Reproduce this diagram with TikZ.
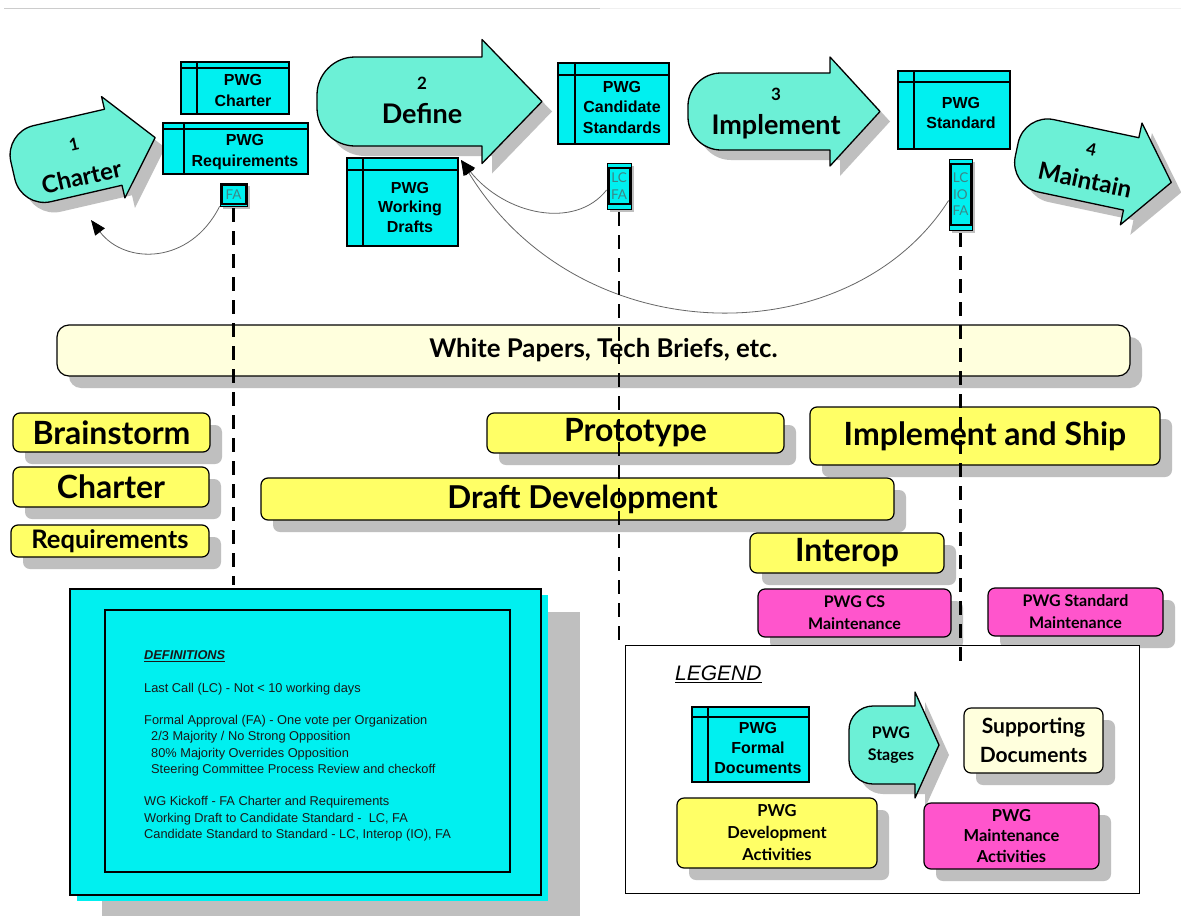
\documentclass[tikz,border=0pt]{standalone}
\usepackage{fontspec}
\setmainfont{Liberation Sans}
\newfontfamily\gill{Lato}
\usetikzlibrary{shadows,arrows.meta}
\definecolor{stagec}{RGB}{108,240,214}
\definecolor{docc}{RGB}{0,240,240}
\definecolor{barY}{RGB}{255,255,102}
\definecolor{paleY}{RGB}{255,255,221}
\definecolor{magc}{RGB}{255,85,204}
\definecolor{shg}{RGB}{191,191,191}
\definecolor{tealtxt}{RGB}{60,135,135}
\newcommand\myfs[2]{\fontsize{#1}{#2}\selectfont}
% L N T H B R
\newcommand\stageshape[6]{(0,-#4) -- (#2,-#4) -- (#2,-#5) -- (#3,0) -- (#2,#5) -- (#2,#4) -- ({#1+#6},#4) .. controls ({#1+0.45*#6},#4) and (#1,{#4-0.45*#6}) .. (#1,{#4-#6}) -- (#1,{-#4+#6}) .. controls (#1,{-#4+0.45*#6}) and ({#1+0.45*#6},-#4) .. ({#1+#6},-#4) -- cycle}
% cx cy rot L N T H B R
\newcommand\stagearrow[9]{%
 \fill[shg, shift={({#1+10},{#2+10})}, rotate=#3] \stageshape{#4}{#5}{#6}{#7}{#8}{#9};
 \draw[line width=1.3pt, fill=stagec, line join=round, shift={(#1,#2)}, rotate=#3] \stageshape{#4}{#5}{#6}{#7}{#8}{#9};}
\begin{document}
\begin{tikzpicture}[x=1pt,y=-1pt,
 bar/.style={draw, line width=1.2pt, rounded corners=7pt, inner sep=0pt, align=center,
   general shadow={fill=shg, shadow xshift=12pt, shadow yshift=-12pt},
   font=\gill\bfseries\myfs{32}{36}},
 docbox/.style 2 args={draw, line width=1.1pt, fill=docc, inner sep=0pt,
   path picture={\draw[line width=1.1pt] ([yshift=-#2 pt]path picture bounding box.north west) -- ([yshift=-#2 pt]path picture bounding box.north east);
   \draw[line width=1.1pt] ([xshift=#1 pt]path picture bounding box.north west) -- ([xshift=#1 pt]path picture bounding box.south west);}},
 doctxt/.style={align=center, inner sep=0pt, font=\bfseries\myfs{16}{20.5}},
 smallbox/.style={draw, line width=0.8pt, fill=docc, inner sep=0pt, align=center,
   font=\gill\myfs{13.5}{16.5}, text=tealtxt,
   general shadow={fill=shg, shadow xshift=3pt, shadow yshift=-3pt},
   path picture={\draw[line width=2pt] ([shift={(1.5pt,-#1 pt)}]path picture bounding box.north west) rectangle ([shift={(-1.5pt,#1 pt)}]path picture bounding box.south east);}},
 stagetxt/.style={inner sep=0pt, align=center, font=\gill\bfseries\myfs{27}{30}},
 dashline/.style={line width=2.2pt, dash pattern=on 14pt off 9pt},
 conn/.style={draw=black!60, line width=0.8pt, -{Triangle[length=15pt,width=12pt,color=black]}}
]
\useasboundingbox (0,0) rectangle (1181,916);
\fill[white] (0,0) rectangle (1181,916);
\draw[black!20, line width=0.8pt] (4,8) -- (600,8);
\draw[black!6, line width=0.8pt] (600,8) -- (1181,8);

% stage arrows
\stagearrow{84}{154}{13}{-73}{30}{73}{39}{52}{30}
\stagearrow{430}{101.5}{0}{-113}{52}{112}{44.5}{62}{38}
\stagearrow{784}{111.5}{0}{-96}{46}{96}{38.5}{54.5}{33}
\stagearrow{1094}{166}{-12}{-79}{38}{79}{37}{52}{30}
\node[stagetxt, rotate=13, font=\gill\bfseries\myfs{24}{30}] (t1) at (78,162) {{\myfs{17}{20}1}\\[6pt]Charter};
\node[stagetxt] (t2) at (422,100) {{\myfs{17}{20}2}\\[4pt]Define};
\node[stagetxt] (t3) at (776,114) {{\myfs{17}{20}3}\\[4pt]Implement};
\node[stagetxt, rotate=-12, font=\gill\bfseries\myfs{24}{30}] (t4) at (1088,166) {{\myfs{17}{20}4}\\[4pt]Maintain};
\coordinate (a1in) at (91,220);
\coordinate (wdIn) at (461,160);

% formal documents
\node[docbox={16}{6}, minimum width=108, minimum height=52] (charterDoc) at (235,88) {};
\node[doctxt] (charterT) at (243,90.5) {PWG\\Charter};
\node[docbox={21}{6}, minimum width=145, minimum height=51] (reqDoc) at (235.5,148.5) {};
\node[doctxt] (reqT) at (245,152) {PWG\\Requirements};
\node[docbox={16}{12}, minimum width=111, minimum height=88] (wdDoc) at (402.5,202) {};
\node[doctxt, font=\bfseries\myfs{16}{19.5}] (wdT) at (410,207) {PWG\\Working\\Drafts};
\node[docbox={17}{12}, minimum width=111, minimum height=81] (csDoc) at (613.5,103.5) {};
\node[doctxt] (csT) at (622,107) {PWG\\Candidate\\Standards};
\node[docbox={16}{11}, minimum width=112, minimum height=78] (stdDoc) at (954,110) {};
\node[doctxt] (stdT) at (961,113) {PWG\\Standard};

% approval boxes
\node[smallbox=2, minimum width=27, minimum height=23] (faBox) at (233.5,194.5) {FA};
\node[smallbox=5, minimum width=24, minimum height=46] (lcfaBox) at (619,186) {LC\\FA};
\node[smallbox=5, minimum width=23, minimum height=71] (lciofaBox) at (960.5,194.5) {LC\\IO\\FA};

% connectors
\draw[conn] (faBox.south west) .. controls (190,265) and (125,265) .. (a1in);
\draw[conn] ([yshift=-4pt]lcfaBox.west) .. controls (575,230) and (505,215) .. (wdIn);
\draw[conn] ([yshift=-6pt]lciofaBox.west) .. controls (850,355) and (580,355) .. (wdIn);

% supporting documents bar
\node[bar, fill=paleY, rounded corners=12pt, minimum width=1073, minimum height=51,
  font=\gill\bfseries\myfs{25.8}{28}] (white) at (593.5,350.5) {\hspace*{20pt}White Papers, Tech Briefs, etc.};

% development activities
\node[bar, fill=barY, minimum width=197, minimum height=39] (brain) at (111.5,432.5) {Brainstorm};
\node[bar, fill=barY, minimum width=196, minimum height=40] (charterBar) at (111,487) {Charter};
\node[bar, fill=barY, minimum width=198, minimum height=32, font=\gill\bfseries\myfs{25.5}{28}] (reqBar) at (110,541) {Requirements};
\node[bar, fill=barY, minimum width=297, minimum height=40] (proto) at (635.5,433) {Prototype};
\node[bar, fill=barY, minimum width=633, minimum height=42, font=\gill\bfseries\myfs{31.5}{36}] (draft) at (577.5,499) {\hspace*{10pt}Draft Development};
\node[bar, fill=barY, minimum width=350, minimum height=58] (ship) at (985,436) {Implement and Ship};
\node[bar, fill=barY, minimum width=194, minimum height=40] (interop) at (847,553) {Interop};
\node[bar, fill=magc, minimum width=193, minimum height=48, font=\gill\bfseries\myfs{16}{22}] (csMaint) at (854.5,613) {PWG CS\\Maintenance};
\node[bar, fill=magc, minimum width=175, minimum height=48, font=\gill\bfseries\myfs{16}{22}] (stdMaint) at (1075.5,612) {PWG Standard\\Maintenance};

% definitions box
\fill[shg] (102,612) rectangle (580,916);
\fill[docc] (77,595) rectangle (548,901);
\node[draw, line width=2pt, fill=docc, minimum width=471, minimum height=306, inner sep=0pt] (defOuter) at (305.5,742) {};
\node[draw, line width=2.5pt, fill=docc, minimum width=405, minimum height=262, inner sep=0pt] (defInner) at (307.5,741) {};
\node[anchor=north west, inner sep=0pt, align=left, text=black!90, font=\myfs{12.8}{16.25}] (defT) at (144,650.4) {%
\underline{\textbf{\textit{DEFINITIONS}}}\\[16.25pt]
Last Call (LC) - Not < 10 working days\\[16.25pt]
Formal Approval (FA) - One vote per Organization\\
\hspace*{7pt}2/3 Majority / No Strong Opposition\\
\hspace*{7pt}80\% Majority Overrides Opposition\\
\hspace*{7pt}Steering Committee Process Review and checkoff\\[16.25pt]
WG Kickoff - FA Charter and Requirements\\
Working Draft to Candidate Standard -\ \ LC, FA\\
Candidate Standard to Standard - LC, Interop (IO), FA};

% legend
\node[draw, line width=1pt, fill=white, minimum width=514, minimum height=248, inner sep=0pt] (legendBox) at (882,769) {};
\node[anchor=base west, inner sep=0pt, font=\itshape\myfs{21}{24}] (legendT) at (675,680.5) {\underline{LEGEND}};
\node[docbox={16}{10}, minimum width=117, minimum height=75] (legDoc) at (750.5,744.5) {};
\node[doctxt, font=\bfseries\myfs{16}{20}] (legDocT) at (758,748) {PWG\\Formal\\Documents};
\stagearrow{890}{745}{0}{-41}{25}{49}{39}{53}{24}
\node[inner sep=0pt, align=center, font=\gill\bfseries\myfs{16}{22}] (legStageT) at (891,745) {PWG\\Stages};
\node[bar, fill=paleY, minimum width=139, minimum height=65, font=\gill\bfseries\myfs{21}{29}] (legSupp) at (1033.5,740.5) {Supporting\\Documents};
\node[bar, fill=barY, minimum width=200, minimum height=70, font=\gill\bfseries\myfs{16.5}{22}] (legDev) at (777,833) {PWG\\Development\\Activities};
\node[bar, fill=magc, minimum width=175, minimum height=66, font=\gill\bfseries\myfs{16.5}{20.5}] (legMaint) at (1011.5,836) {PWG\\Maintenance\\Activities};

% milestone lines
\coordinate (d1end) at (233.5,585);
\coordinate (d2end) at (619,645);
\coordinate (d3end) at (960.5,665);
\draw[dashline] ([yshift=-2pt]faBox.south) -- (d1end);
\draw[dashline] ([yshift=-3pt]lcfaBox.south) -- (d2end);
\draw[dashline] ([yshift=-3pt]lciofaBox.south) -- (d3end);
\end{tikzpicture}
\end{document}
